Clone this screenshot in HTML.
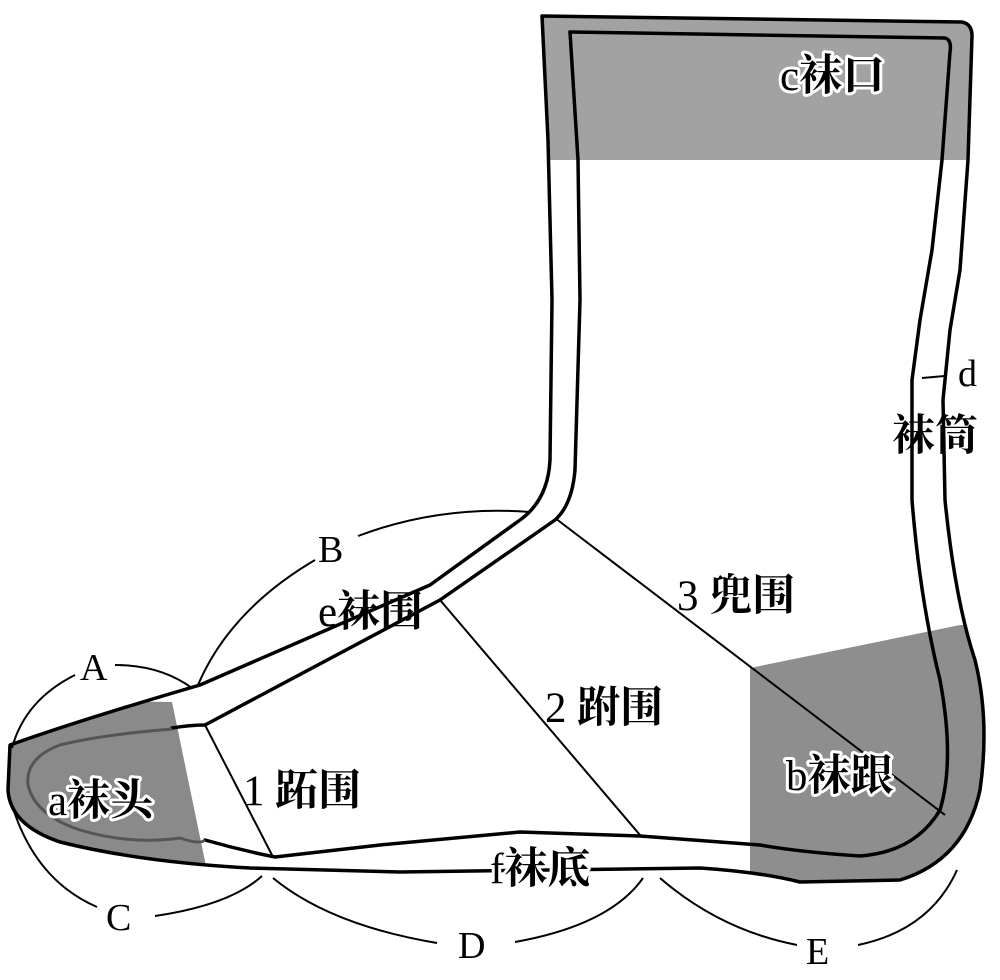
<!DOCTYPE html>
<html><head><meta charset="utf-8"><style>
html,body{margin:0;padding:0;background:#fff}
svg{display:block}
text{font-family:"Liberation Serif","Noto Serif CJK SC","Noto Sans CJK SC",serif;fill:#000}
.h{stroke:#fff;stroke-width:6;paint-order:stroke;stroke-linejoin:round}
.l{font-size:43px}
.l tspan{font-weight:bold}
</style></head><body>
<svg width="1000" height="980" viewBox="0 0 1000 980" xmlns="http://www.w3.org/2000/svg">
<defs>
<clipPath id="outer"><path d="M542,16 L962,22 Q972,24 972,36 L968,160 L960,270 L950,330 L943,400 L945,500 Q955,600 975,660 Q990,720 980,790 Q965,860 900,880 L800,882 Q760,872 700,868 L400,872 L250,868 Q140,862 60,842 Q10,825 8,790 L10,745 Q80,720 200,685 L430,585 L520,520 Q548,500 550,460 L552,300 L548,140 Z"/></clipPath>
</defs>
<g clip-path="url(#outer)">
<rect x="0" y="0" width="1000" height="160" fill="#a2a2a2"/>
<polygon points="750,668 960,625 1000,625 1000,900 750,900" fill="#8e8e8e"/>
<polygon points="0,700 172,702 206,866 0,866" fill="#8a8a8a"/>
</g>
<g fill="none" stroke="#000" stroke-width="3.5" stroke-linejoin="round" stroke-linecap="round">
<path d="M542,16 L962,22 Q972,24 972,36 L968,160 L960,270 L950,330 L943,400 L945,500 Q955,600 975,660 Q990,720 980,790 Q965,860 900,880 L800,882 Q760,872 700,868 L400,872 L250,868 Q140,862 60,842 Q10,825 8,790 L10,745 Q80,720 200,685 L430,585 L520,520 Q548,500 550,460 L552,300 L548,140 Z"/>
<path d="M570,32 L945,38 Q952,40 950,52 L942,160 L932,250 L920,320 L912,380 L912,500 Q920,600 940,680 Q955,760 940,810 Q915,852 860,856 Q800,852 760,845 L640,836 L520,832 L380,845 L275,857 Q240,850 205,840"/>
<path d="M205,725 L440,600 L555,520 Q572,505 575,470 L580,300 L578,160 L570,32"/>
<path d="M205,725 Q190,725 172,728"/>
</g>
<path d="M172,729 Q100,735 60,745 Q25,758 28,785 Q35,815 80,830 Q130,845 180,838 Q200,845 205,840" fill="none" stroke="#555" stroke-width="3"/>
<g fill="none" stroke="#000" stroke-width="2">
<line x1="205" y1="725" x2="273" y2="857"/>
<line x1="440" y1="600" x2="640" y2="835"/>
<line x1="555" y1="518" x2="945" y2="815"/>
<line x1="922" y1="378" x2="945" y2="376"/>
<path d="M12,748 Q25,700 75,675"/>
<path d="M115,665 Q160,665 192,688"/>
<path d="M198,685 Q230,610 315,560"/>
<path d="M358,536 Q440,505 530,512"/>
<path d="M12,805 Q35,880 97,907"/>
<path d="M155,916 Q230,905 262,876"/>
<path d="M273,878 Q330,925 437,943"/>
<path d="M515,942 Q610,925 643,878"/>
<path d="M660,878 Q720,930 797,945"/>
<path d="M858,945 Q930,930 957,870"/>
</g>
<g font-size="38">
<text x="80" y="680">A</text>
<text x="318" y="562">B</text>
<text x="106" y="930">C</text>
<text x="458" y="958">D</text>
<text x="806" y="964">E</text>
<text x="958" y="386">d</text>
</g>
<g class="l">
<text x="318" y="626">e<tspan>袜围</tspan></text>
<text x="243" y="805">1 <tspan>跖围</tspan></text>
<text x="545" y="722">2 <tspan>跗围</tspan></text>
<text x="677" y="610">3 <tspan>兜围</tspan></text>
<text x="892" y="450"><tspan>袜筒</tspan></text>
<text x="490" y="883" class="h">f<tspan>袜底</tspan></text>
<text x="48" y="815" class="h">a<tspan>袜头</tspan></text>
<text x="786" y="790" class="h">b<tspan>袜跟</tspan></text>
<text x="780" y="90" class="h">c<tspan>袜口</tspan></text>
</g>
</svg>
</body></html>
